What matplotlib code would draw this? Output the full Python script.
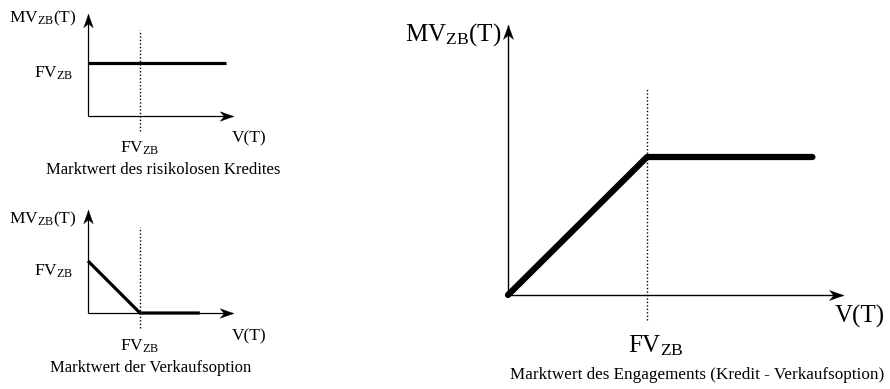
import matplotlib
matplotlib.use("Agg")
import matplotlib.pyplot as plt
from matplotlib.path import Path

plt.rcParams['font.family'] = ['Liberation Serif', 'DejaVu Serif']
plt.rcParams['mathtext.fontset'] = 'custom'
plt.rcParams['mathtext.rm'] = 'Liberation Serif'
plt.rcParams['mathtext.it'] = 'Liberation Serif:italic'

W, H = 890, 389

# ---- data (in units of FV_ZB) ----
fv = 1.0
credit_x = [0.0, 2.65]
credit_y = [1.0, 1.0]
put_x = [0.0, 1.0, 2.15]
put_y = [1.0, 0.0, 0.0]
eng_x = [0.0, 1.0, 2.19]
eng_y = [0.0, 1.0, 1.0]

ylabel_txt = r"MV$_{\mathrm{ZB}}$(T)"
xlabel_txt = "V(T)"
fv_txt = r"FV$_{\mathrm{ZB}}$"
captions = ["Marktwert des risikolosen Kredites",
            "Marktwert der Verkaufsoption",
            "Marktwert des Engagements (Kredit - Verkaufsoption)"]

fig = plt.figure(figsize=(W / 100, H / 100), dpi=100)

UP = Path([(0, 0), (-0.36, -1), (0, -0.7), (0.36, -1), (0, 0)],
          [Path.MOVETO, Path.LINETO, Path.LINETO, Path.LINETO, Path.CLOSEPOLY])
RIGHT = Path([(0, 0), (-1, 0.36), (-0.7, 0), (-1, -0.36), (0, 0)],
             [Path.MOVETO, Path.LINETO, Path.LINETO, Path.LINETO, Path.CLOSEPOLY])


def make_panel(box, origin, unit):
    left, top, right, bottom = box
    ox, oy = origin
    ux, uy = unit
    ax = fig.add_axes([left / W, 1 - bottom / H, (right - left) / W, (bottom - top) / H])
    ax.set_xlim((left - ox) / ux, (right - ox) / ux)
    ax.set_ylim((oy - bottom) / uy, (oy - top) / uy)
    ax.axis('off')
    return ax


def axes_arrows(ax, xend, yend, lw, ms):
    ax.plot([0, xend], [0, 0], color='black', lw=lw, solid_capstyle='butt')
    ax.plot([0, 0], [0, yend], color='black', lw=lw, solid_capstyle='butt')
    ax.plot([xend], [0], marker=RIGHT, ms=ms, color='black', mew=0.3, clip_on=False)
    ax.plot([0], [yend], marker=UP, ms=ms, color='black', mew=0.3, clip_on=False)


def ftext(x, y, s, size, ha='center', va='center'):
    fig.text(x / W, 1 - y / H, s, fontsize=size, ha=ha, va=va)


# ---- panel 1: risk-free credit ----
ax1 = make_panel((80, 5, 245, 140), (88, 116), (52, 53))
ax1.plot([fv, fv], [-0.28, 1.62], color='black', lw=1.0, ls=(0, (1, 1.5)))
ax1.plot(credit_x, credit_y, color='black', lw=2.3, solid_capstyle='butt')
axes_arrows(ax1, 2.79, 1.92, 0.9, 19)
ftext(76, 18, ylabel_txt, 12.5, ha='right')
ftext(73, 73, fv_txt, 12.5, ha='right')
ftext(232, 138, xlabel_txt, 12.5, ha='left')
ftext(140, 148, fv_txt, 12.5)
ftext(163, 170, captions[0], 12)

# ---- panel 2: put option ----
ax2 = make_panel((80, 200, 245, 335), (88, 313), (52, 52))
ax2.plot([fv, fv], [-0.29, 1.65], color='black', lw=1.0, ls=(0, (1, 1.5)))
ax2.plot(put_x, put_y, color='black', lw=2.3, solid_capstyle='butt')
axes_arrows(ax2, 2.79, 1.98, 0.9, 19)
ftext(76, 219, ylabel_txt, 12.5, ha='right')
ftext(73, 271, fv_txt, 12.5, ha='right')
ftext(232, 336, xlabel_txt, 12.5, ha='left')
ftext(140, 346, fv_txt, 12.5)
ftext(151, 368, captions[1], 12)

# ---- panel 3: engagement ----
ax3 = make_panel((495, 15, 860, 330), (508, 295), (139, 138))
ax3.plot([fv, fv], [-0.18, 1.49], color='black', lw=1.0, ls=(0, (1, 1.5)))
ax3.plot(eng_x, eng_y, color='black', lw=4.5, solid_capstyle='round')
axes_arrows(ax3, 2.41, 1.96, 1.0, 20)
ftext(501, 35, ylabel_txt, 18, ha='right')
ftext(835, 316, xlabel_txt, 18, ha='left')
ftext(656, 346, fv_txt, 18)
ftext(697, 375, captions[2], 12.3)

fig.savefig("out.png", dpi=100)
